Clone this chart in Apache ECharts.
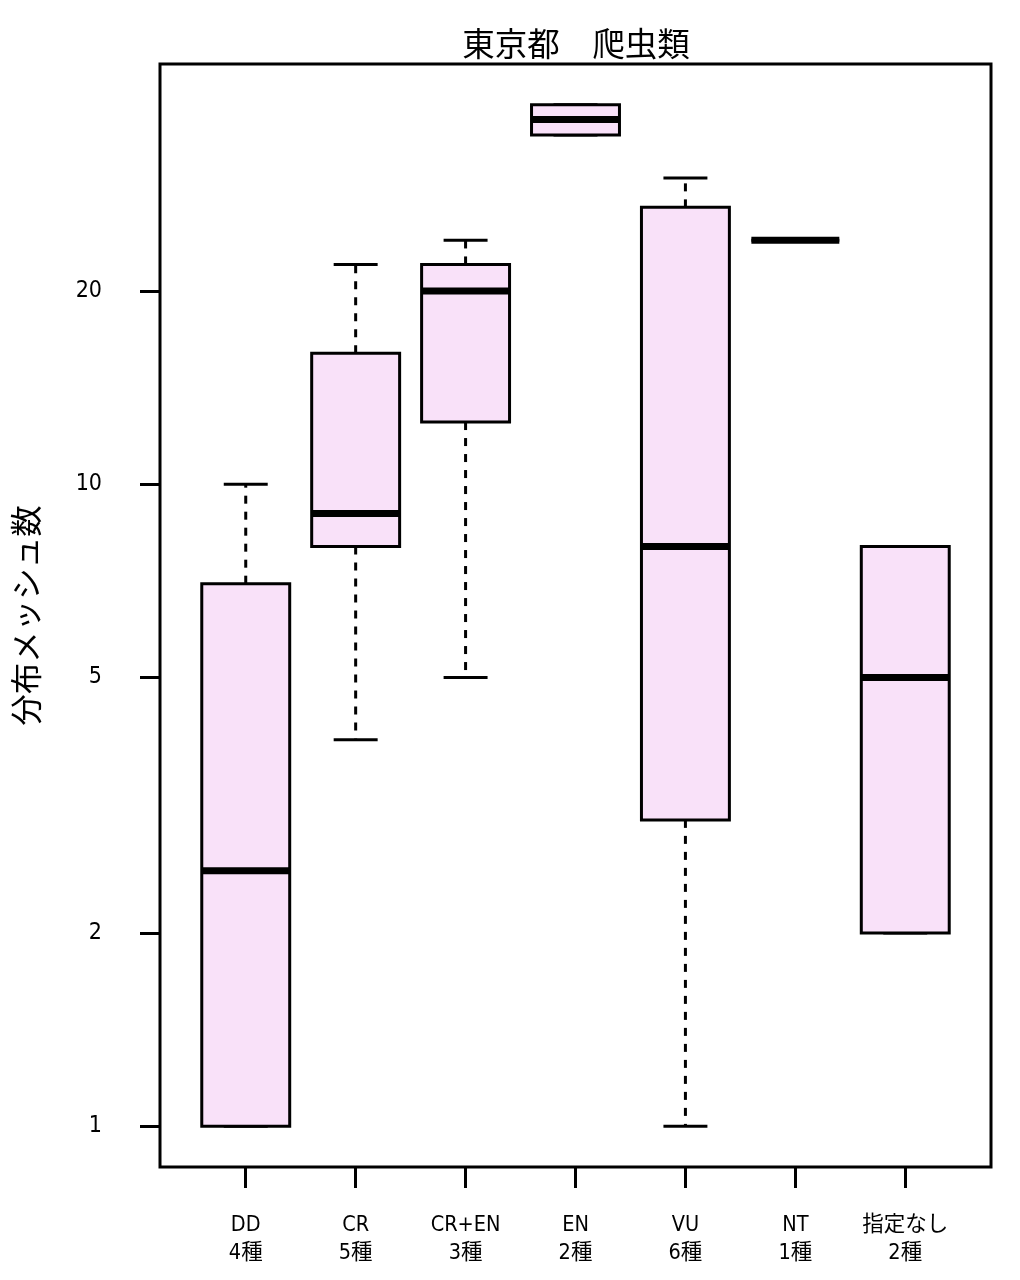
<!DOCTYPE html>
<html>
<head>
<meta charset="utf-8">
<script src="https://cdn.jsdelivr.net/npm/echarts@6/dist/echarts.min.js"></script>
<style>
html,body{margin:0;padding:0;background:#fff;}
#chart{width:1020px;height:1280px;}
</style>
</head>
<body>
<div id="chart"></div>
<script>
// ---- data ----
const categories   = ['DD', 'CR', 'CR+EN', 'EN', 'VU', 'NT', '指定なし'];
const speciesCount = [4, 5, 3, 2, 6, 1, 2];
const whiskerLow   = [1, 4, 5, 35, 1, 24, 2];
const lowerHinge   = [1, 8, 12.5, 35, 3, 24, 2];
const medians      = [2.5, 9, 20, 37, 8, 24, 5];
const upperHinge   = [7, 16, 22, 39, 27, 24, 8];
const whiskerHigh  = [10, 22, 24, 39, 30, 24, 8];
const yTickValues  = [1, 2, 5, 10, 20];
const xPositions   = categories.map((c, i) => i + 1);

const titleText = '東京都　爬虫類';
const yTitle = '分布メッシュ数';

// ---- styles ----
const FILL = '#F9E1F9';
const LW = 3;
const NARROW = "'Liberation Sans Narrow','DejaVu Sans Condensed','Noto Sans CJK JP',sans-serif";
const CJK = "'Noto Sans CJK JP',sans-serif";

const boxData = xPositions.map((x, i) => [x, whiskerLow[i], lowerHinge[i], medians[i], upperHinge[i], whiskerHigh[i]]);

// R-like axis extents (4% padding)
const yLogMin = 0, yLogMax = Math.log10(Math.max(...whiskerHigh));
const yPad = (yLogMax - yLogMin) * 0.04;
const xPad = (xPositions.length) * 0.04;

const chart = echarts.init(document.getElementById('chart'), null, {renderer: 'canvas'});

chart.setOption({
  backgroundColor: '#fff',
  animation: false,
  title: {
    text: titleText,
    left: 571,
    textAlign: 'center',
    top: 22,
    textStyle: {fontFamily: CJK, fontSize: 32.5, fontWeight: 'normal', color: '#000'}
  },
  grid: {
    left: 160, right: 29, top: 64, bottom: 113,
    show: true, borderColor: '#000', borderWidth: LW, backgroundColor: 'transparent'
  },
  xAxis: {
    type: 'value',
    min: 0.5 - xPad,
    max: xPositions.length + 0.5 + xPad,
    axisLine: {show: false},
    splitLine: {show: false},
    axisTick: {show: true, inside: false, length: 21, customValues: xPositions,
      lineStyle: {color: '#000', width: LW}},
    axisLabel: {
      customValues: xPositions,
      margin: 44,
      color: '#000',
      fontFamily: NARROW,
      fontSize: 21.5,
      lineHeight: 28,
      align: 'center',
      formatter: function (v) {
        const i = Math.round(v) - 1;
        return categories[i] + '\n' + speciesCount[i] + '種';
      }
    }
  },
  yAxis: {
    type: 'log',
    logBase: 10,
    min: Math.pow(10, yLogMin - yPad),
    max: Math.pow(10, yLogMax + yPad),
    name: yTitle,
    nameLocation: 'middle',
    nameRotate: 90,
    nameGap: 118,
    nameTextStyle: {fontFamily: CJK, fontSize: 31.5, color: '#000'},
    axisLine: {show: false},
    splitLine: {show: false},
    minorTick: {show: false},
    axisTick: {show: true, inside: false, length: 20, customValues: yTickValues,
      lineStyle: {color: '#000', width: LW}},
    axisLabel: {
      customValues: yTickValues,
      margin: 58,
      color: '#000',
      fontFamily: NARROW,
      fontSize: 23,
      formatter: function (v) { return String(Math.round(v * 100) / 100); }
    }
  },
  series: [{
    type: 'custom',
    data: boxData,
    encode: {x: 0, y: [1, 2, 3, 4, 5]},
    clip: false,
    renderItem: function (params, api) {
      const x = api.value(0);
      const lo = api.value(1), q1 = api.value(2), med = api.value(3), q3 = api.value(4), hi = api.value(5);
      const pLo = api.coord([x, lo]), pQ1 = api.coord([x, q1]), pMed = api.coord([x, med]);
      const pQ3 = api.coord([x, q3]), pHi = api.coord([x, hi]);
      const left = api.coord([x - 0.4, med])[0], right = api.coord([x + 0.4, med])[0];
      const sl = api.coord([x - 0.2, med])[0], sr = api.coord([x + 0.2, med])[0];
      const cx = pMed[0];
      const dash = {stroke: '#000', lineWidth: LW, lineDash: [8, 8], fill: null};
      const solid = {stroke: '#000', lineWidth: LW, fill: null};
      return {
        type: 'group',
        children: [
          {type: 'line', shape: {x1: cx, y1: pQ3[1], x2: cx, y2: pHi[1]}, style: dash},
          {type: 'line', shape: {x1: cx, y1: pQ1[1], x2: cx, y2: pLo[1]}, style: dash},
          {type: 'line', shape: {x1: sl, y1: pHi[1], x2: sr, y2: pHi[1]}, style: solid},
          {type: 'line', shape: {x1: sl, y1: pLo[1], x2: sr, y2: pLo[1]}, style: solid},
          {type: 'rect', shape: {x: left, y: pQ3[1], width: right - left, height: pQ1[1] - pQ3[1]},
            style: {fill: FILL, stroke: '#000', lineWidth: LW}},
          {type: 'line', shape: {x1: left, y1: pMed[1], x2: right, y2: pMed[1]},
            style: {stroke: '#000', lineWidth: 7, lineCap: 'butt', fill: null}}
        ]
      };
    }
  }]
});
</script>
</body>
</html>
